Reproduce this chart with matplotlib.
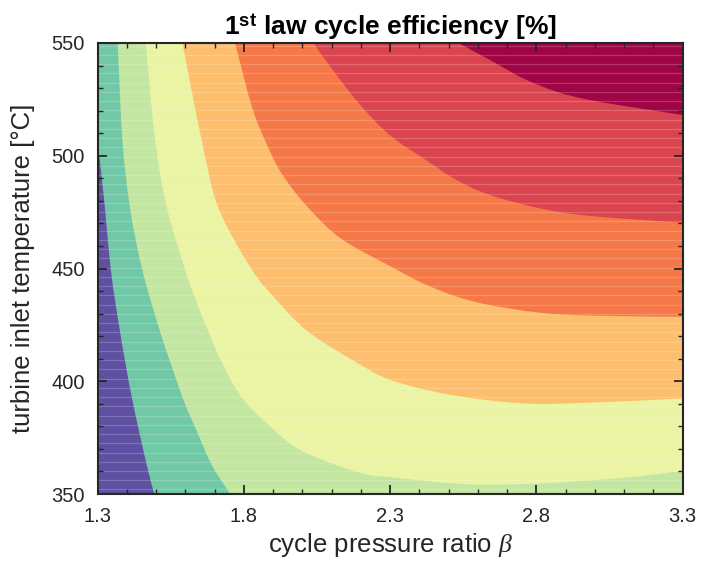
import numpy as np
import matplotlib
matplotlib.use("Agg")
import matplotlib.pyplot as plt
from matplotlib.path import Path
from matplotlib.patches import PathPatch
from matplotlib.ticker import MultipleLocator

plt.rcParams["font.family"] = "Liberation Sans"
plt.rcParams["mathtext.fontset"] = "custom"
plt.rcParams["mathtext.rm"] = "Liberation Sans"
plt.rcParams["mathtext.bf"] = "Liberation Sans:bold"
plt.rcParams["mathtext.it"] = "Liberation Serif:italic"

# Efficiency band boundaries, each as (pressure ratio, inlet temperature) points,
# ordered from the lowest band to the highest
b1_beta = [1.300, 1.323, 1.346, 1.377, 1.417, 1.468, 1.494]
b1_temp = [507, 480, 449, 422, 393, 363, 350]

b2_beta = [1.369, 1.385, 1.411, 1.452, 1.514, 1.593, 1.639, 1.690, 1.753]
b2_temp = [550, 507, 477, 450, 422, 392, 378, 363, 350]

b3_beta = [1.465, 1.497, 1.537, 1.598, 1.633, 1.679, 1.730, 1.798, 1.907, 1.986,
           2.112, 2.225, 2.300, 2.562, 2.812, 3.097, 3.300]
b3_temp = [550, 507, 477, 450, 437, 422, 407, 392, 378, 370,
           363, 358.5, 357.5, 354.3, 354.7, 357.2, 360.2]

b4_beta = [1.590, 1.656, 1.713, 1.825, 1.905, 2.020, 2.203, 2.310, 2.505, 2.755, 2.983, 3.300]
b4_temp = [550, 507, 477, 450, 437, 422, 407, 400.2, 394, 390.2, 390.5, 392.4]

b5_beta = [1.770, 1.827, 1.872, 1.930, 2.020, 2.135, 2.308, 2.413, 2.528, 2.641, 2.812, 2.983, 3.300]
b5_temp = [550, 522, 507, 492, 477, 463, 450.5, 443.4, 437.5, 433.8, 430.4, 429.1, 428.6]

b6_beta = [2.038, 2.112, 2.203, 2.300, 2.413, 2.528, 2.641, 2.812, 2.983, 3.300]
b6_temp = [550, 536.6, 521.8, 509.0, 498.9, 489.2, 482.6, 476.7, 473.3, 470.3]

b7_beta = [2.533, 2.641, 2.755, 2.869, 2.983, 3.154, 3.300]
b7_temp = [550, 542.5, 534.3, 528.4, 524.7, 521.0, 518.1]

band_colors = ["#5f50a2", "#71c8a7", "#c3e6a0", "#ebf4a3",
               "#fdbe6e", "#f57848", "#d9444f", "#9f0445"]

beta_lim = (1.3, 3.3)
temp_lim = (350, 550)


def smooth_segments(pts):
    """Catmull-Rom pass through the points, returned as cubic Bezier vertices."""
    pts = np.asarray(pts, dtype=float)
    ext = np.vstack([2 * pts[0] - pts[1], pts, 2 * pts[-1] - pts[-2]])
    verts, codes = [pts[0]], [Path.MOVETO]
    for i in range(1, len(ext) - 2):
        p0, p1, p2, p3 = ext[i - 1], ext[i], ext[i + 1], ext[i + 2]
        verts += [p1 + (p2 - p0) / 6, p2 - (p3 - p1) / 6, p2]
        codes += [Path.CURVE4] * 3
    return verts, codes


fig = plt.figure(figsize=(7.01, 5.71), dpi=100)
ax = fig.add_axes([97.5 / 701, 1 - 494 / 571, 585.2 / 701, 451 / 571])

# lowest band fills the whole domain, every next band is laid over the region
# above/right of its lower boundary
ax.fill([beta_lim[0], beta_lim[1], beta_lim[1], beta_lim[0]],
        [temp_lim[0], temp_lim[0], temp_lim[1], temp_lim[1]],
        color=band_colors[0], lw=0)

boundaries = [(b1_beta, b1_temp), (b2_beta, b2_temp), (b3_beta, b3_temp),
              (b4_beta, b4_temp), (b5_beta, b5_temp), (b6_beta, b6_temp),
              (b7_beta, b7_temp)]

for (bx, by), col in zip(boundaries, band_colors[1:]):
    verts, codes = smooth_segments(np.column_stack([bx, by]))
    corners = []
    if by[-1] <= temp_lim[0]:
        corners.append((beta_lim[1], temp_lim[0]))
    corners.append((beta_lim[1], temp_lim[1]))
    if by[0] < temp_lim[1]:
        corners.append((beta_lim[0], temp_lim[1]))
    verts += corners + [verts[0]]
    codes += [Path.LINETO] * len(corners) + [Path.CLOSEPOLY]
    ax.add_patch(PathPatch(Path(verts, codes), facecolor=col, lw=0))

# faint seams of the filled patches
for t in np.arange(352, 550, 4.1):
    ax.axhline(t, color="white", alpha=0.2, lw=0.9, zorder=1.2)

ax.set_xlim(*beta_lim)
ax.set_ylim(*temp_lim)
ax.set_xticks([1.3, 1.8, 2.3, 2.8, 3.3])
ax.set_yticks([350, 400, 450, 500, 550])
ax.xaxis.set_minor_locator(MultipleLocator(0.1))
ax.yaxis.set_minor_locator(MultipleLocator(10))

dark = "#262626"
ax.tick_params(which="both", direction="in", top=True, right=True,
               colors=dark, labelsize=14.5)
ax.tick_params(which="major", length=6.5, width=1.3, pad=9)
ax.tick_params(which="minor", length=3.5, width=1.0)
for s in ax.spines.values():
    s.set_color(dark)
    s.set_linewidth(1.5)

ax.set_xlabel(r"cycle pressure ratio $\beta$", fontsize=18.5, color=dark, labelpad=4)
ax.set_ylabel("turbine inlet temperature [°C]", fontsize=18.5, color=dark, labelpad=12)
ax.set_title(r"1$^{\mathbf{st}}$ law cycle efficiency [%]", fontsize=19,
             fontweight="bold", color="black", pad=4)

fig.savefig("out.png", dpi=100)
